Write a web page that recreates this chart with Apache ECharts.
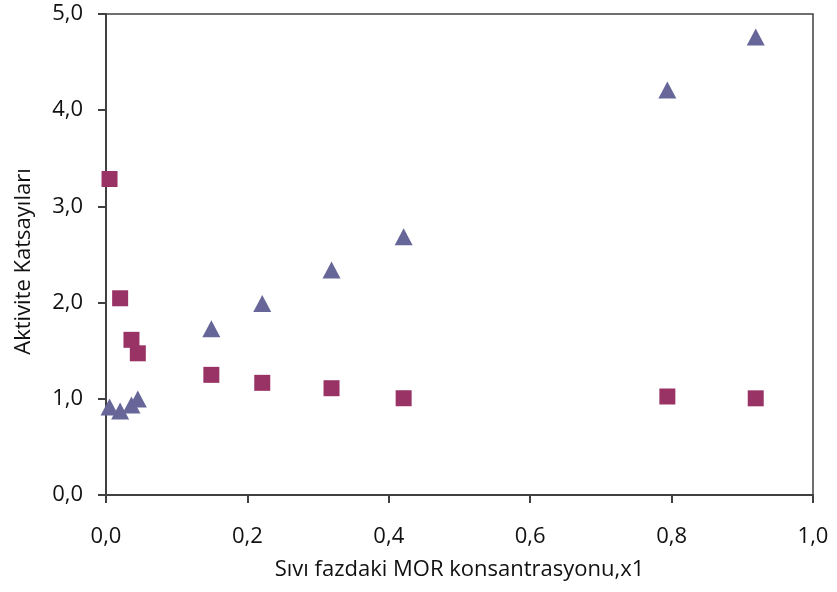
<!DOCTYPE html>
<html>
<head>
<meta charset="utf-8">
<script src="https://cdn.jsdelivr.net/npm/echarts@6/dist/echarts.min.js"></script>
<style>html,body{margin:0;padding:0;background:#fff}#c{width:837px;height:592px}</style>
</head>
<body>
<div id="c"></div>
<script>
// MOR liquid-phase mole fraction (x1)
const x1 = [0.005, 0.020, 0.036, 0.045, 0.149, 0.221, 0.319, 0.421, 0.794, 0.919];
// Series A (triangles)
const gammaTri = [0.915, 0.873, 0.936, 0.998, 1.727, 1.99, 2.339, 2.685, 4.21, 4.76];
// Series B (squares)
const gammaSq = [3.285, 2.045, 1.613, 1.473, 1.249, 1.166, 1.110, 1.006, 1.024, 1.005];
const xTitle = 'Sıvı fazdaki MOR konsantrasyonu,x1';
const yTitle = 'Aktivite Katsayıları';

const fmt = v => v.toFixed(1).replace('.', ',');
const font = 'Open Sans';
const chart = echarts.init(document.getElementById('c'));
chart.setOption({
  animation: false,
  grid: { left: 106, right: 24, top: 14, bottom: 97, show: true, borderColor: '#404040', borderWidth: 1.5 },
  xAxis: {
    type: 'value', min: 0, max: 1, interval: 0.2,
    name: xTitle, nameLocation: 'middle', nameGap: 64,
    nameTextStyle: { fontFamily: font, fontSize: 22, color: '#111' },
    axisLine: { lineStyle: { color: '#404040', width: 2 } },
    axisTick: { show: true, inside: false, length: 8, lineStyle: { color: '#404040', width: 2 } },
    axisLabel: { formatter: fmt, margin: 31, fontFamily: font, fontSize: 22, color: '#111' },
    splitLine: { show: false }
  },
  yAxis: {
    type: 'value', min: 0, max: 5, interval: 1,
    name: yTitle, nameLocation: 'middle', nameGap: 71,
    nameTextStyle: { fontFamily: font, fontSize: 22, color: '#111', padding: [0, 14, 0, 0] },
    axisLine: { show: true, lineStyle: { color: '#404040', width: 2 } },
    axisTick: { show: true, inside: false, length: 8, lineStyle: { color: '#404040', width: 2 } },
    axisLabel: { formatter: fmt, margin: 23, fontFamily: font, fontSize: 22, color: '#111', padding: [6, 0, 0, 0] },
    splitLine: { show: false }
  },
  series: [
    {
      type: 'scatter', symbol: 'rect', symbolSize: 16,
      itemStyle: { color: '#993366', opacity: 1 },
      data: x1.map((x, i) => [x, gammaSq[i]])
    },
    {
      type: 'scatter', symbol: 'triangle', symbolSize: [18, 17],
      itemStyle: { color: '#666699', opacity: 1 },
      data: x1.map((x, i) => [x, gammaTri[i]])
    }
  ]
});
</script>
</body>
</html>
